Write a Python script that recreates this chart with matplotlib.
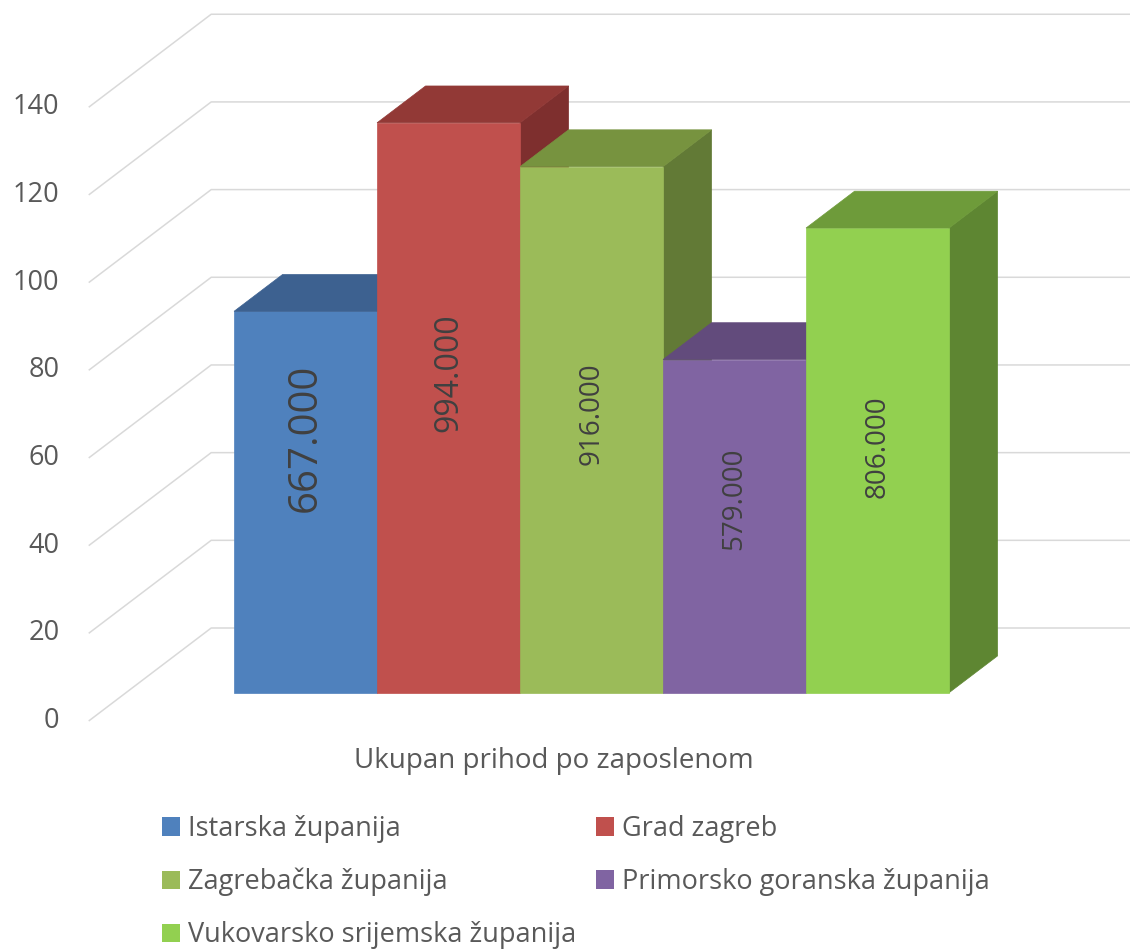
import matplotlib
matplotlib.use('Agg')
import matplotlib.pyplot as plt
from matplotlib.patches import Polygon, Patch

# data
series = ['Istarska županija', 'Grad zagreb', 'Zagrebačka županija',
          'Primorsko goranska županija', 'Vukovarsko srijemska županija']
values = [87, 130, 120, 76, 106]
value_labels = ['667.000', '994.000', '916.000', '579.000', '806.000']
category = 'Ukupan prihod po zaposlenom'
yticks = [0, 20, 40, 60, 80, 100, 120, 140]

# styles
front_colors = ['#4F81BD', '#C0504D', '#9BBB59', '#8064A2', '#92D050']
top_colors = ['#3D6190', '#923936', '#77933F', '#624B7C', '#6E9B3A']
side_colors = ['#34557E', '#7E2F2E', '#627A36', '#52406A', '#5E8632']
label_pos = [58.1, 73.0, 63.6, 44.2, 56.2]   # label centre above bar bottom
label_size = [29, 23, 20, 20, 20]

plt.rcParams['font.family'] = ['Open Sans', 'DejaVu Sans']
TXT = '#595959'

W, H = 1130, 951
PX_W, PX_V = 143.0, 4.384      # pixels per bar width / per value unit
ox, oy = 88.7, 721.0           # front corner of the floor, in pixels

fig = plt.figure(figsize=(W / 100, H / 100), dpi=100)
ax = fig.add_axes([0, 0, 1, 1])
xmax = (W - ox) / PX_W
ax.set_xlim(-ox / PX_W, xmax)
ax.set_ylim(-(H - oy) / PX_V, oy / PX_V)
ax.axis('off')

# oblique depth
DX, DY = 122.5 / PX_W, 93.0 / PX_V
f0, f1 = 0.304, 0.70
x_start = 0.756
ddx, ddy = (f1 - f0) * DX, (f1 - f0) * DY

# walls / gridlines
for v in yticks:
    ax.plot([0, DX, xmax], [v, v + DY, v + DY], color='#D9D9D9', lw=1.1,
            zorder=0, solid_capstyle='butt')
    ax.text(-29.4 / PX_W, v, str(v), ha='right', va='center',
            fontsize=19.5, color=TXT)

# bars, left to right
base = f0 * DY
for i, h in enumerate(values):
    xl = x_start + i + f0 * DX
    xr = xl + 1
    top = base + h
    side = Polygon([(xr, base), (xr + ddx, base + ddy), (xr + ddx, top + ddy), (xr, top)],
                   closed=True, facecolor=side_colors[i], edgecolor=side_colors[i], lw=0.5)
    ax.add_patch(side)
    ax.bar(xl, h, width=1, bottom=base, align='edge', color=front_colors[i],
           edgecolor=front_colors[i], lw=0.5)
    lid = Polygon([(xl, top), (xr, top), (xr + ddx, top + ddy), (xl + ddx, top + ddy)],
                  closed=True, facecolor=top_colors[i], edgecolor=top_colors[i], lw=0.5)
    ax.add_patch(lid)
    ax.text(xl + 0.5, base + label_pos[i], value_labels[i], rotation=90,
            ha='center', va='center', fontsize=label_size[i], color='#404040')

# category label
ax.text(x_start + len(values) / 2, -40.0 / PX_V, category, ha='center', va='center',
        fontsize=20, color=TXT)

# legend, row-major like the original
order = [0, 2, 4, 1, 3]
handles = [Patch(facecolor=front_colors[k], edgecolor='none') for k in order]
labels = [series[k] for k in order]
fig.legend(handles, labels, ncol=2, loc='upper left',
           bbox_to_anchor=(162 / W, 1 - 815 / H), frameon=False, fontsize=19.5,
           handlelength=0.67, handleheight=0.67, handletextpad=0.3,
           labelspacing=0.92, columnspacing=0.72, borderpad=0, borderaxespad=0,
           labelcolor=TXT)

fig.savefig('out.png', dpi=100)
